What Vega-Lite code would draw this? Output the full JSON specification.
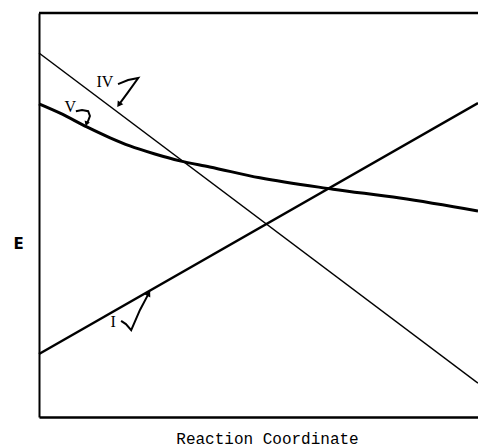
{
  "$schema": "https://vega.github.io/schema/vega-lite/v6.json",
  "width": 439,
  "height": 404,
  "autosize": "none",
  "padding": {"left": 39, "top": 13, "right": 0, "bottom": 31},
  "background": "white",
  "config": {"view": {"stroke": null}},
  "datasets": {
    "curves": [
      {"curve": "IV", "x": 0, "y": 90.1},
      {"curve": "IV", "x": 100, "y": 8.4},
      {"curve": "I", "x": 0, "y": 15.6},
      {"curve": "I", "x": 100, "y": 77.7},
      {"curve": "V", "x": 0, "y": 77.5},
      {"curve": "V", "x": 4.8, "y": 75.2},
      {"curve": "V", "x": 10.9, "y": 71.8},
      {"curve": "V", "x": 16.2, "y": 69.1},
      {"curve": "V", "x": 20.7, "y": 67.1},
      {"curve": "V", "x": 26.4, "y": 65.1},
      {"curve": "V", "x": 32.1, "y": 63.4},
      {"curve": "V", "x": 38.9, "y": 61.9},
      {"curve": "V", "x": 50.3, "y": 59.2},
      {"curve": "V", "x": 67.0, "y": 56.4},
      {"curve": "V", "x": 82.2, "y": 54.2},
      {"curve": "V", "x": 100, "y": 51.0}
    ],
    "arrows": [
      {"arrow": "IV", "step": 1, "x": 18.0, "y": 82.4},
      {"arrow": "IV", "step": 2, "x": 20.3, "y": 83.4},
      {"arrow": "IV", "step": 3, "x": 22.6, "y": 83.9},
      {"arrow": "IV", "step": 4, "x": 20.3, "y": 80.4},
      {"arrow": "IV", "step": 5, "x": 18.2, "y": 77.3},
      {"arrow": "V", "step": 1, "x": 8.4, "y": 75.7},
      {"arrow": "V", "step": 2, "x": 9.8, "y": 76.0},
      {"arrow": "V", "step": 3, "x": 11.2, "y": 75.7},
      {"arrow": "V", "step": 4, "x": 11.6, "y": 74.5},
      {"arrow": "V", "step": 5, "x": 11.2, "y": 73.3},
      {"arrow": "V", "step": 6, "x": 10.8, "y": 72.6},
      {"arrow": "I", "step": 1, "x": 18.7, "y": 23.8},
      {"arrow": "I", "step": 2, "x": 19.8, "y": 23.0},
      {"arrow": "I", "step": 3, "x": 21.0, "y": 21.5},
      {"arrow": "I", "step": 4, "x": 23.0, "y": 26.5},
      {"arrow": "I", "step": 5, "x": 25.0, "y": 30.6}
    ],
    "labels": [
      {"text": "IV", "x": 15.0, "y": 83.0},
      {"text": "V", "x": 7.1, "y": 76.7},
      {"text": "I", "x": 16.9, "y": 23.5}
    ]
  },
  "encoding": {
    "x": {
      "field": "x",
      "type": "quantitative",
      "scale": {"domain": [0, 100], "nice": false, "zero": false},
      "axis": {
        "title": "Reaction Coordinate",
        "titleFont": "Liberation Mono",
        "titleFontSize": 16,
        "titleFontWeight": "normal",
        "titleColor": "#000",
        "titleX": 228,
        "titleY": 26,
        "titleAlign": "center",
        "titleBaseline": "alphabetic",
        "labels": false,
        "ticks": false,
        "grid": false,
        "domainColor": "#000",
        "domainWidth": 2.5
      }
    },
    "y": {
      "field": "y",
      "type": "quantitative",
      "scale": {"domain": [0, 100], "nice": false, "zero": false},
      "axis": {
        "title": "E",
        "titleFont": "DejaVu Sans",
        "titleFontSize": 15,
        "titleFontWeight": "bold",
        "titleColor": "#000",
        "titleAngle": 0,
        "titleX": -21,
        "titleY": 230,
        "titleAlign": "center",
        "titleBaseline": "middle",
        "labels": false,
        "ticks": false,
        "grid": false,
        "domainColor": "#000",
        "domainWidth": 2
      }
    }
  },
  "layer": [
    {
      "data": {"values": [{"x": 0, "x2": 100, "y": 100}]},
      "mark": {"type": "rule", "color": "#000", "strokeWidth": 2.5},
      "encoding": {"x2": {"field": "x2"}}
    },
    {
      "data": {"name": "curves"},
      "transform": [{"filter": "datum.curve === 'IV'"}],
      "mark": {"type": "line", "color": "#000", "strokeWidth": 1.5},
      "encoding": {}
    },
    {
      "data": {"name": "curves"},
      "transform": [{"filter": "datum.curve === 'I'"}],
      "mark": {"type": "line", "color": "#000", "strokeWidth": 2.5},
      "encoding": {}
    },
    {
      "data": {"name": "curves"},
      "transform": [{"filter": "datum.curve === 'V'"}],
      "mark": {"type": "line", "color": "#000", "strokeWidth": 3, "interpolate": "monotone"},
      "encoding": {}
    },
    {
      "data": {"name": "arrows"},
      "mark": {"type": "line", "color": "#000", "strokeWidth": 2, "interpolate": "linear"},
      "encoding": {
        "detail": {"field": "arrow"},
        "order": {"field": "step", "type": "quantitative"}
      }
    },
    {
      "data": {"name": "arrows"},
      "transform": [{"filter": "datum.arrow === 'IV' && datum.step === 5"}],
      "mark": {"type": "point", "shape": "triangle-up", "filled": true, "color": "#000", "size": 45, "opacity": 1, "angle": 214},
      "encoding": {}
    },
    {
      "data": {"name": "arrows"},
      "transform": [{"filter": "datum.arrow === 'V' && datum.step === 6"}],
      "mark": {"type": "point", "shape": "triangle-up", "filled": true, "color": "#000", "size": 30, "opacity": 1, "angle": 200},
      "encoding": {}
    },
    {
      "data": {"name": "arrows"},
      "transform": [{"filter": "datum.arrow === 'I' && datum.step === 5"}],
      "mark": {"type": "point", "shape": "triangle-up", "filled": true, "color": "#000", "size": 45, "opacity": 1, "angle": 29},
      "encoding": {}
    },
    {
      "data": {"name": "labels"},
      "mark": {"type": "text", "font": "Liberation Serif", "fontSize": 16, "color": "#000", "align": "center", "baseline": "middle"},
      "encoding": {"text": {"field": "text"}}
    }
  ]
}
